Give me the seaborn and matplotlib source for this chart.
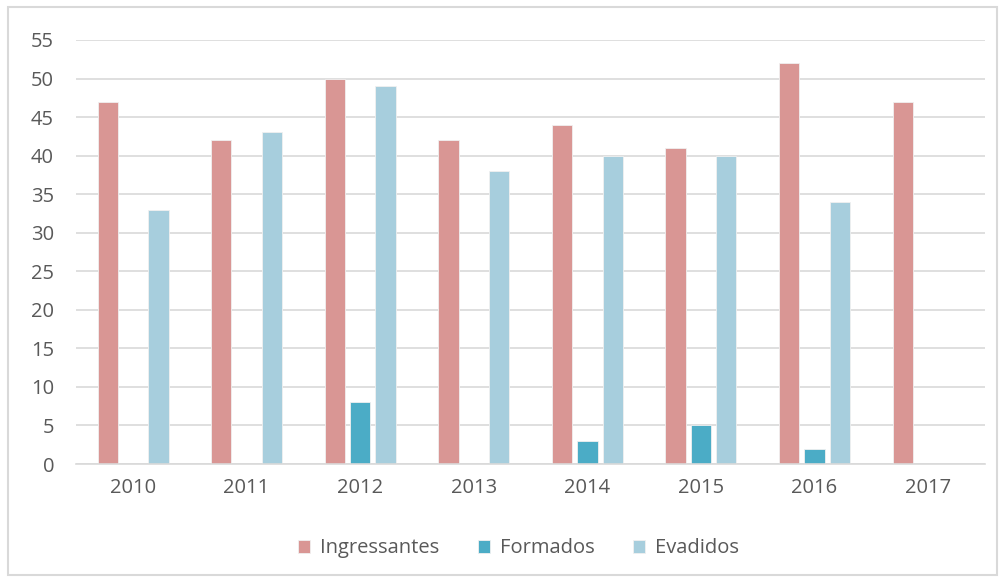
import matplotlib
matplotlib.use("Agg")
import numpy as np
import pandas as pd
import matplotlib.pyplot as plt
import seaborn as sns
from matplotlib.patches import Rectangle

YEARS = ["2010", "2011", "2012", "2013", "2014", "2015", "2016", "2017"]
SERIES = ["Ingressantes", "Formados", "Evadidos"]
ingressantes = [47, 42, 50, 42, 44, 41, 52, 47]
formados = [0, 0, 8, 0, 3, 5, 2, 0]
evadidos = [33, 43, 49, 38, 40, 40, 34, 0]
COLORS = ["#D99694", "#4BACC6", "#A7CEDD"]
TEXT = "#595959"

df = pd.DataFrame({
    "ano": YEARS * 3,
    "serie": [s for s in SERIES for _ in YEARS],
    "valor": ingressantes + formados + evadidos,
})

sns.set_theme(style="white")
plt.rcParams["font.family"] = ["Open Sans", "DejaVu Sans"]

fig = plt.figure(figsize=(10.03, 5.79), dpi=100)
ax = fig.add_axes([0.076, 0.1986, 0.906, 0.7324])

sns.barplot(data=df, x="ano", y="valor", hue="serie", hue_order=SERIES,
            palette=COLORS, saturation=1, width=0.67, gap=0.2, ax=ax,
            edgecolor="#F0F0F0", linewidth=0.6, errorbar=None)

ax.set_ylim(0, 55)
ax.set_xlim(-0.5, 7.5)
ax.set_yticks(np.arange(0, 56, 5))
ax.yaxis.grid(True, color="#D9D9D9", linewidth=1.2)
ax.set_axisbelow(True)
for s in ["top", "right", "left"]:
    ax.spines[s].set_visible(False)
ax.spines["bottom"].set_color("#D9D9D9")
ax.spines["bottom"].set_linewidth(1.2)
ax.tick_params(axis="both", length=0, labelsize=14.5, labelcolor=TEXT)
ax.tick_params(axis="y", pad=16)
ax.tick_params(axis="x", pad=10)
ax.set_xlabel("")
ax.set_ylabel("")

handles, labels = ax.get_legend_handles_labels()
ax.legend_.remove()
fig.legend(handles, labels, loc="center", bbox_to_anchor=(0.517, 0.053), ncol=3,
           frameon=False, fontsize=14.5, labelcolor=TEXT, handlelength=0.6,
           handleheight=0.6, handletextpad=0.5, columnspacing=1.9)

fig.patches.append(Rectangle((8 / 1003, 4 / 579), 989 / 1003, 568 / 579,
                             transform=fig.transFigure, fill=False,
                             edgecolor="#D9D9D9", linewidth=1.5))

fig.savefig("out.png", dpi=100)
